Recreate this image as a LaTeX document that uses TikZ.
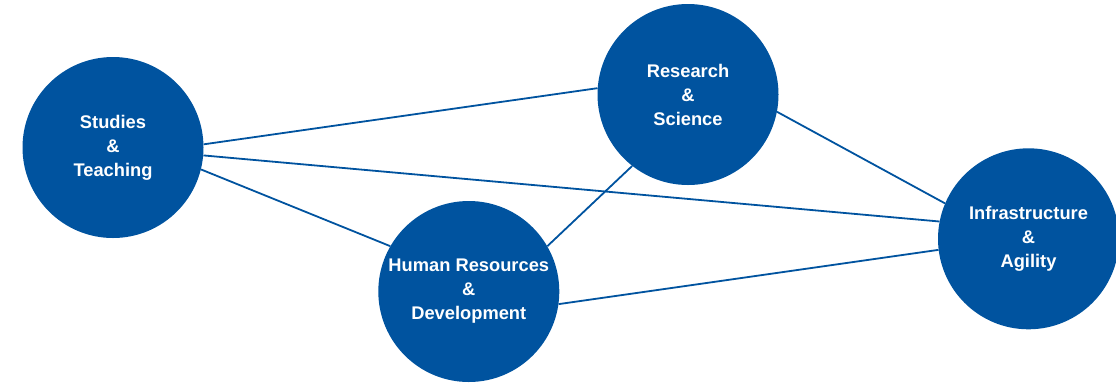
\documentclass[tikz,border=0pt]{standalone}
\usepackage{fontspec}
\setmainfont{Liberation Sans}
\definecolor{uniblue}{RGB}{0,83,159}
\begin{document}
\begin{tikzpicture}[x=1pt,y=-1pt,
  topic/.style={circle,fill=uniblue,minimum size=181pt,inner sep=0pt,text=white,
    align=center,font=\fontsize{18.3}{24}\selectfont\bfseries},
  link/.style={draw=uniblue,line width=1.8pt}]
\useasboundingbox (0,0) rectangle (1116,384);
\node[topic] (st) at (113,147.5) {Studies\\\&\\Teaching};
\node[topic] (rs) at (688,94.5) {Research\\\&\\Science};
\node[topic] (hr) at (468.8,291.5) {Human Resources\\\&\\Development};
\node[topic] (in) at (1028.5,238.8) {Infrastructure\\\&\\Agility};
\draw[link] (st.2.7) -- (rs.176.5);
\draw[link] (st.-5.8) -- (in.169.1);
\draw[link] (st.-14.8) -- (hr.150.4);
\draw[link] (rs.232.4) -- (hr.30.8);
\draw[link] (rs.-11.8) -- (in.157);
\draw[link] (hr.-8.1) -- (in.187.7);
\end{tikzpicture}
\end{document}
